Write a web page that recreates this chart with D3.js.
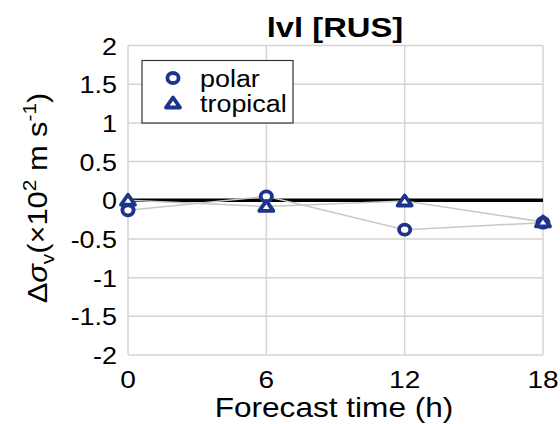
<!DOCTYPE html>
<html>
<head>
  <meta charset="utf-8"/>
  <script src="https://cdn.jsdelivr.net/npm/d3@7"></script>
<style>
body { margin: 0; background: #fff; }
text { font-family: "Liberation Sans", Arial, sans-serif; fill: #000; }
</style>
</head>
<body>
  <svg id="chart" width="560" height="424"></svg>
  <script>
    var hours = [0, 6, 12, 18];
    var polar = [-0.13, 0.05, -0.38, -0.29];
    var tropical = [0.0, -0.08, -0.01, -0.28];
    var yTicks = [2, 1.5, 1, 0.5, 0, -0.5, -1, -1.5, -2];

    var svg = d3.select("#chart");
    var x = d3.scaleLinear().domain([0, 18]).range([128, 543]);
    var y = d3.scaleLinear().domain([-2, 2]).range([355, 45.5]);
    var blue = "#1c3489";
    var sx = 1.17; // the figure is a bit wider than tall

    function label(px, py, txt, size, anchor, bold) {
      var t = svg.append("text")
          .attr("transform", "translate(" + px + "," + py + ") scale(" + sx + ",1)")
          .attr("text-anchor", anchor || "start")
          .style("font-size", size + "px")
          .text(txt);
      if (bold) t.style("font-weight", "bold");
      return t;
    }

    // grid
    svg.selectAll("line.hg").data(yTicks).enter().append("line")
        .attr("x1", x(0)).attr("x2", x(18))
        .attr("y1", function(d) { return y(d); })
        .attr("y2", function(d) { return y(d); })
        .attr("stroke", "#d4d4d4").attr("stroke-width", 1.5);
    svg.selectAll("line.vg").data(hours).enter().append("line")
        .attr("y1", y(-2)).attr("y2", y(2))
        .attr("x1", function(d) { return x(d); })
        .attr("x2", function(d) { return x(d); })
        .attr("stroke", "#d4d4d4").attr("stroke-width", 1.5);

    // tick labels
    yTicks.forEach(function(d) { label(117, y(d) + 9, String(d), 23, "end"); });
    hours.forEach(function(d) { label(x(d), 388, String(d), 24, "middle"); });

    // zero line
    svg.append("line").attr("x1", x(0)).attr("x2", x(18))
        .attr("y1", y(0)).attr("y2", y(0))
        .attr("stroke", "#000").attr("stroke-width", 3.5);

    var line = d3.line()
        .x(function(d, i) { return x(hours[i]); })
        .y(function(d) { return y(d); });
    [polar, tropical].forEach(function(s) {
      svg.append("path").attr("d", line(s))
          .attr("fill", "none").attr("stroke", "#c8c8c8").attr("stroke-width", 1.5);
    });

    function circleMark(cx, cy) {
      svg.append("ellipse").attr("cx", cx).attr("cy", cy).attr("rx", 5.6).attr("ry", 5)
          .attr("fill", "#fff").attr("stroke", blue).attr("stroke-width", 3.8);
    }
    function triMark(cx, cy) {
      svg.append("path").attr("d", "M0,-5.5L7,4.5L-7,4.5Z")
          .attr("transform", "translate(" + cx + "," + cy + ")")
          .attr("fill", "#fff").attr("stroke", blue).attr("stroke-width", 3.8)
          .attr("stroke-linejoin", "round");
    }
    polar.forEach(function(v, i) { circleMark(x(hours[i]), y(v)); });
    tropical.forEach(function(v, i) { triMark(x(hours[i]), y(v)); });

    // legend
    svg.append("rect").attr("x", 142).attr("y", 60.5).attr("width", 151).attr("height", 62.5)
        .attr("fill", "#fff").attr("stroke", "#333").attr("stroke-width", 1.2);
    circleMark(173, 78);
    triMark(173, 103);
    label(200, 87, "polar", 23);
    label(200, 112, "tropical", 23);

    // title and axis labels
    label(335, 37, "lvl [RUS]", 28, "middle", true);
    label(334, 417, "Forecast time (h)", 27, "middle");

    var yl = svg.append("text").attr("transform", "translate(47,198) rotate(-90) scale(1.1,1)")
        .attr("text-anchor", "middle").style("font-size", "28px");
    yl.append("tspan").text("\u0394");
    yl.append("tspan").style("font-style", "italic").text("\u03c3");
    yl.append("tspan").attr("dy", 7).style("font-size", "19px").text("v");
    yl.append("tspan").attr("dy", -7).text("(\u00d710");
    yl.append("tspan").attr("dy", -11).style("font-size", "19px").text("2");
    yl.append("tspan").attr("dy", 11).text(" m s");
    yl.append("tspan").attr("dy", -11).style("font-size", "19px").text("-1");
    yl.append("tspan").attr("dy", 11).text(")");
  </script>
</body>
</html>
